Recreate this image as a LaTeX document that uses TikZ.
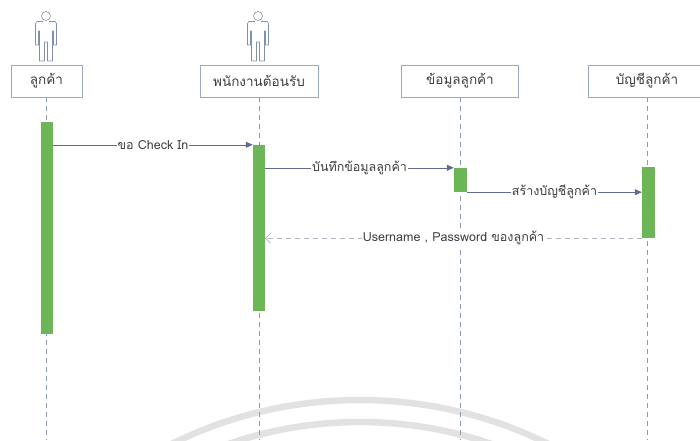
\documentclass[tikz,border=0pt]{standalone}
\usepackage{fontspec}
\setmainfont{Loma}[Script=Thai]
\usetikzlibrary{arrows.meta}
\definecolor{boxline}{RGB}{150,172,198}
\definecolor{lifegrey}{RGB}{140,155,178}
\definecolor{actgreen}{RGB}{108,182,88}
\definecolor{msgline}{RGB}{96,106,146}
\definecolor{replygrey}{RGB}{172,178,190}
\definecolor{txtgrey}{RGB}{62,62,66}
\definecolor{markgrey}{RGB}{226,226,226}
\begin{document}
\begin{tikzpicture}[x=1pt,y=-1pt,
    objbox/.style={draw=boxline,semithick,minimum height=32pt,inner sep=0pt,text=txtgrey,font=\fontsize{13.5}{15}\selectfont},
    actbar/.style={fill=actgreen,draw=none,minimum width=12pt,inner sep=0pt},
    lifeline/.style={draw=lifegrey,semithick,dash pattern=on 5pt off 4pt},
    msg/.style={draw=msgline,semithick,-{Triangle[length=7pt,width=6pt]}},
    reply/.style={draw=replygrey,semithick,dash pattern=on 5pt off 4pt,-{Straight Barb[length=5pt,width=10pt]}},
    msglabel/.style={fill=white,inner sep=1pt,text=txtgrey,font=\fontsize{12.5}{14}\selectfont},
    actorline/.style={draw=boxline!85!black,semithick,line join=round}]%
    \useasboundingbox (0,0) rectangle (700,440);%
    \clip (0,0) rectangle (700,440);%
    % faint arcs at the bottom
    \draw[markgrey,line width=6.5pt] (360,825) circle[radius=425];%
    \draw[markgrey,line width=6.5pt] (360,825) circle[radius=403];%
    % actors
    \foreach \c in {46,258} {%
        \draw[actorline] (\c,16) circle[radius=4.5];%
        \draw[actorline] (\c-3,21.5) -- (\c-9,21.5) -- (\c-10.5,23.5) -- (\c-10.5,45)
            -- (\c-7.5,45) -- (\c-7.5,31) -- (\c-6.5,31) -- (\c-6.5,61) -- (\c-1.5,61)
            -- (\c-1.5,42) -- (\c+1.5,42) -- (\c+1.5,61) -- (\c+6.5,61) -- (\c+6.5,31)
            -- (\c+7.5,31) -- (\c+7.5,45) -- (\c+10.5,45) -- (\c+10.5,23.5)
            -- (\c+9,21.5) -- (\c+3,21.5);%
    }%
    % objects
    \node[objbox,minimum width=71pt] (cust) at (46.5,81) {ลูกค้า};%
    \node[objbox,minimum width=118pt] (staff) at (259,81) {พนักงานต้อนรับ};%
    \node[objbox,minimum width=117pt] (info) at (460,81) {ข้อมูลลูกค้า};%
    \node[objbox,minimum width=118pt] (acct) at (647,81) {บัญชีลูกค้า};%
    \coordinate (bottom) at (0,440);%
    % lifelines
    \foreach \o in {cust,staff,info,acct}
        \draw[lifeline] (\o.south) -- (\o.south |- bottom);%
    % activations
    \node[actbar,minimum height=212pt] (act1) at (47,228) {};%
    \node[actbar,minimum height=166pt] (act2) at (259,228) {};%
    \node[actbar,minimum height=24pt,minimum width=13pt] (act3) at (460.5,180) {};%
    \node[actbar,minimum height=71pt,minimum width=13pt] (act4) at (648.5,202.5) {};%
    % messages
    \draw[msg] (act1.east |- act2.north) -- node[msglabel] {ขอ Check In} (act2.north west);%
    \draw[msg] (act2.east |- act3.north) -- node[msglabel] {บันทึกข้อมูลลูกค้า} (act3.north west);%
    \draw[msg] (act3.south east) -- node[msglabel] {สร้างบัญชีลูกค้า} (act4.west |- act3.south);%
    \draw[reply] (act4.south west) -- node[msglabel] {Username , Password ของลูกค้า} (act2.east |- act4.south);%
\end{tikzpicture}
\end{document}
